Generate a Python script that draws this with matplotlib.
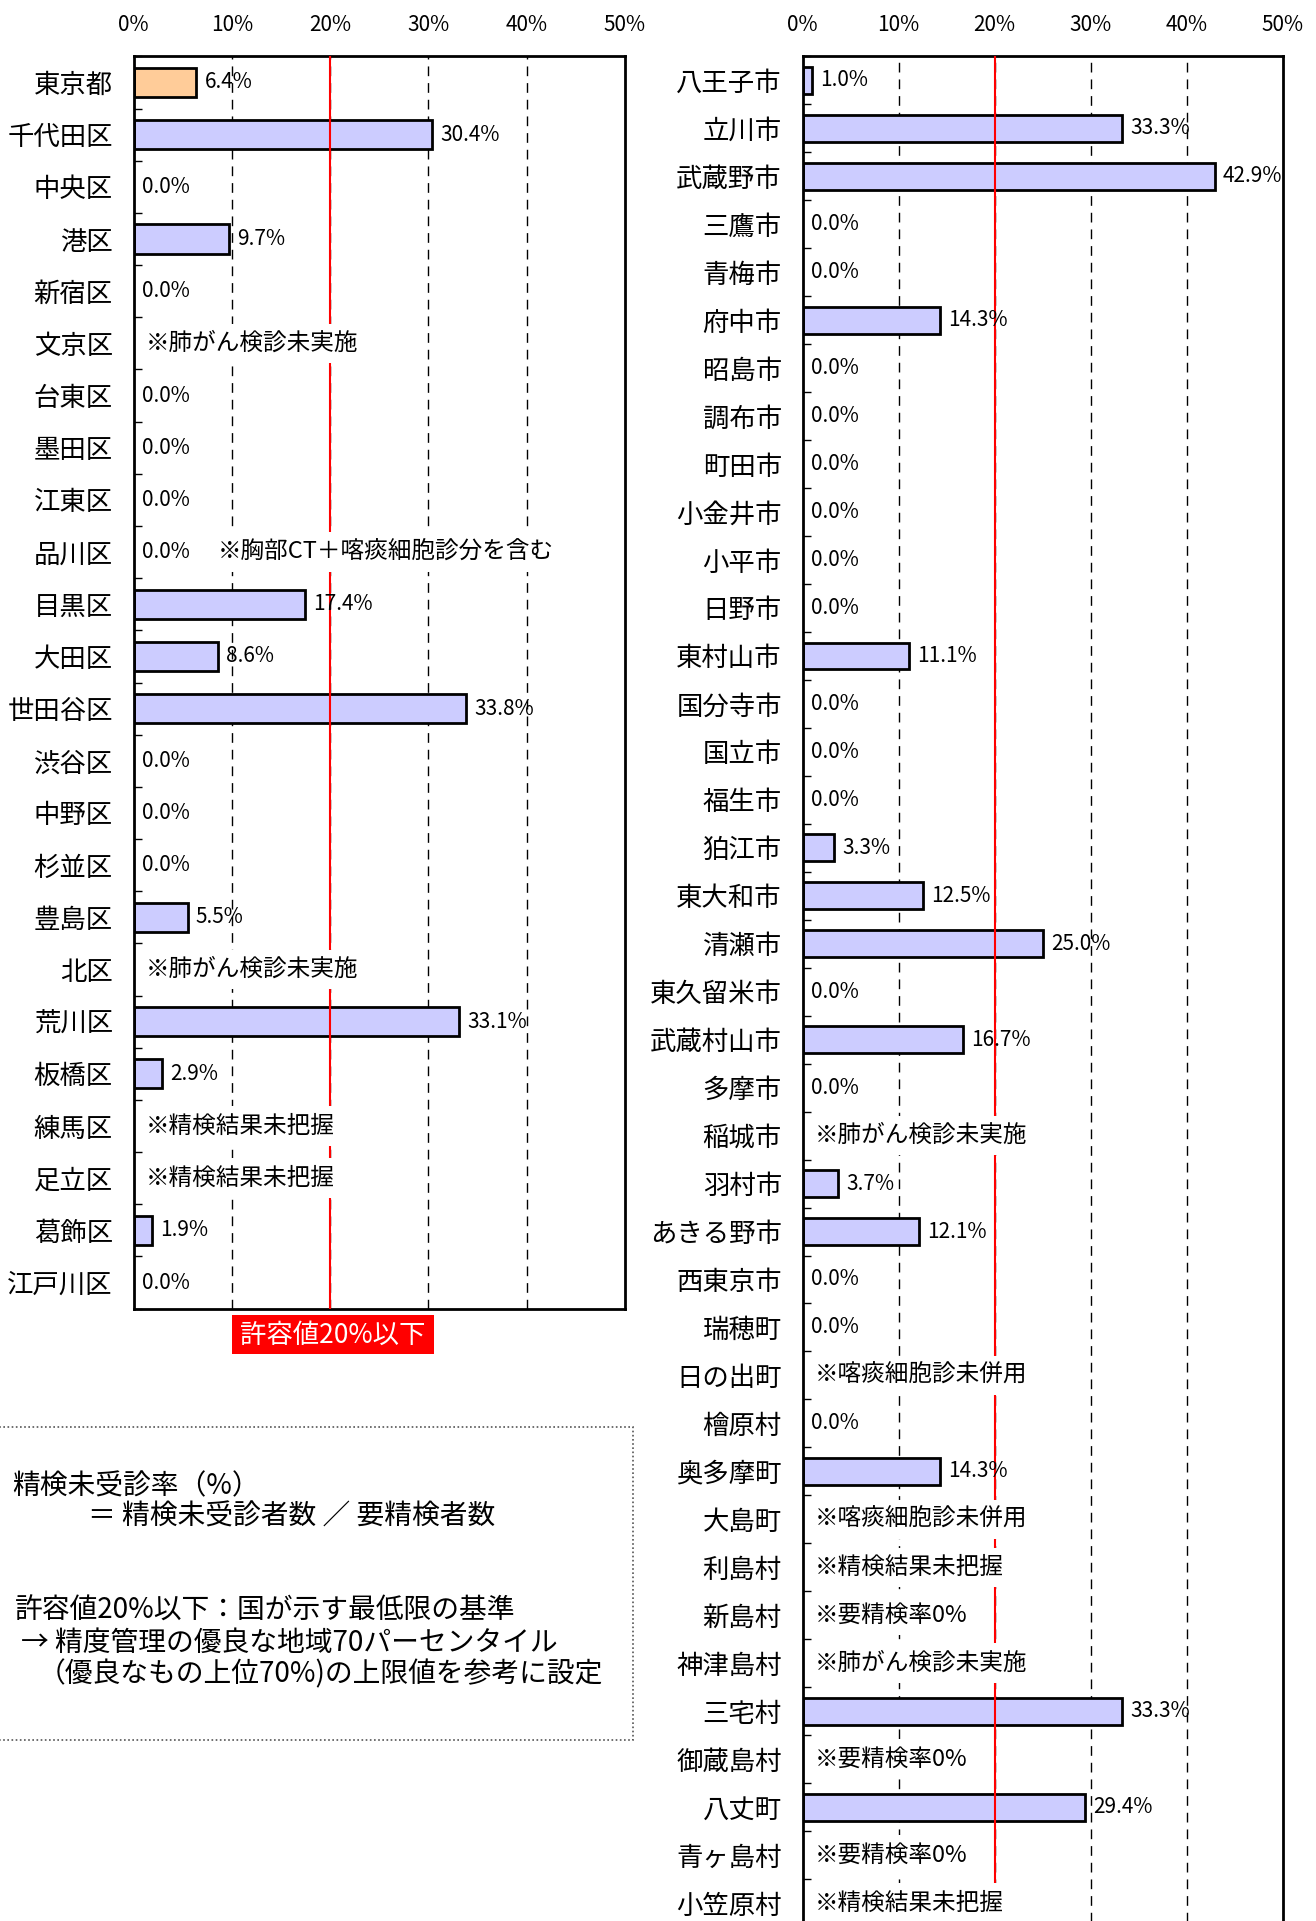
import numpy as np
import matplotlib.pyplot as plt
from matplotlib.patches import Rectangle

plt.rcParams['font.family'] = ['Noto Sans CJK JP', 'DejaVu Sans']

NA = np.nan

# 区部（東京都を先頭に）
ku_names = ["東京都", "千代田区", "中央区", "港区", "新宿区", "文京区", "台東区", "墨田区",
            "江東区", "品川区", "目黒区", "大田区", "世田谷区", "渋谷区", "中野区", "杉並区",
            "豊島区", "北区", "荒川区", "板橋区", "練馬区", "足立区", "葛飾区", "江戸川区"]
ku_rates = [6.4, 30.4, 0.0, 9.7, 0.0, NA, 0.0, 0.0,
            0.0, 0.0, 17.4, 8.6, 33.8, 0.0, 0.0, 0.0,
            5.5, NA, 33.1, 2.9, NA, NA, 1.9, 0.0]
ku_notes = ["", "", "", "", "", "※肺がん検診未実施", "", "",
            "", "※胸部CT＋喀痰細胞診分を含む", "", "", "", "", "", "",
            "", "※肺がん検診未実施", "", "", "※精検結果未把握", "※精検結果未把握", "", ""]

# 市町村
shi_names = ["八王子市", "立川市", "武蔵野市", "三鷹市", "青梅市", "府中市", "昭島市", "調布市",
             "町田市", "小金井市", "小平市", "日野市", "東村山市", "国分寺市", "国立市", "福生市",
             "狛江市", "東大和市", "清瀬市", "東久留米市", "武蔵村山市", "多摩市", "稲城市", "羽村市",
             "あきる野市", "西東京市", "瑞穂町", "日の出町", "檜原村", "奥多摩町", "大島町", "利島村",
             "新島村", "神津島村", "三宅村", "御蔵島村", "八丈町", "青ヶ島村", "小笠原村"]
shi_rates = [1.0, 33.3, 42.9, 0.0, 0.0, 14.3, 0.0, 0.0,
             0.0, 0.0, 0.0, 0.0, 11.1, 0.0, 0.0, 0.0,
             3.3, 12.5, 25.0, 0.0, 16.7, 0.0, NA, 3.7,
             12.1, 0.0, 0.0, NA, 0.0, 14.3, NA, NA,
             NA, NA, 33.3, NA, 29.4, NA, NA]
shi_notes = [""] * 22 + ["※肺がん検診未実施", "",
             "", "", "", "※喀痰細胞診未併用", "", "", "※喀痰細胞診未併用", "※精検結果未把握",
             "※要精検率0%", "※肺がん検診未実施", "", "※要精検率0%", "", "※要精検率0%", "※精検結果未把握"]

x_ticks = [0, 10, 20, 30, 40, 50]
limit = 20

W, H = 1316, 1921
BAR_COLOR = '#CCCCFF'
TOKYO_COLOR = '#FFCC99'


def draw_panel(ax, names, rates, notes, highlight_first=False):
    n = len(names)
    for i, (r, note) in enumerate(zip(rates, notes)):
        label = None
        if not np.isnan(r):
            color = TOKYO_COLOR if (highlight_first and i == 0) else BAR_COLOR
            if r > 0:
                ax.barh(i, r, height=0.56, color=color, edgecolor='black', linewidth=2, zorder=2)
            label = ax.annotate(f'{r:.1f}%', xy=(r, i), xytext=(6, 0), textcoords='offset points',
                                ha='left', va='center', fontsize=15, zorder=5)
        if note:
            box = dict(boxstyle='square,pad=0.35', fc='white', ec='none')
            if label is None:
                ax.annotate(note, xy=(0, i), xytext=(9, 0), textcoords='offset points',
                            ha='left', va='center', fontsize=17, bbox=box, zorder=4)
            else:
                ax.annotate(note, xy=(1, 0.5), xycoords=label, xytext=(20, 0),
                            textcoords='offset points', ha='left', va='center',
                            fontsize=17, bbox=box, zorder=4)

    for v in x_ticks[1:-1]:
        ax.axvline(v, color='black', lw=1, linestyle=(0, (7, 5)), zorder=1)
    ax.axvline(limit, color='red', lw=1.5, zorder=3)

    ax.set_xlim(0, 50)
    ax.set_ylim(n - 0.5, -0.5)
    ax.set_xticks(x_ticks, [f'{v}%' for v in x_ticks])
    ax.xaxis.tick_top()
    ax.tick_params(axis='x', length=0, pad=15, labelsize=15)
    ax.set_yticks(range(n), names)
    ax.tick_params(axis='y', which='major', length=0, pad=15, labelsize=19)
    ax.set_yticks(np.arange(-0.5, n), minor=True)
    ax.tick_params(axis='y', which='minor', direction='in', length=6, width=1)
    for sp in ax.spines.values():
        sp.set_linewidth(2)


fig = plt.figure(figsize=(W / 100, H / 100), dpi=100)

ax1 = fig.add_axes([133.6 / W, 1 - 1308.6 / H, (624.9 - 133.6) / W, (1308.6 - 56.4) / H])
draw_panel(ax1, ku_names, ku_rates, ku_notes, highlight_first=True)

ax2 = fig.add_axes([802.6 / W, 1 - 1927 / H, (1282.9 - 802.6) / W, (1927 - 56.4) / H])
draw_panel(ax2, shi_names, shi_rates, shi_notes)

# 許容値ラベル
fig.add_artist(Rectangle((231.6 / W, 1 - 1354 / H), 202 / W, 39 / H,
                         transform=fig.transFigure, fc='#FF0000', ec='none'))
fig.text(332.7 / W, 1 - 1335 / H, '許容値20%以下', color='white', fontsize=19,
         ha='center', va='center')

# 注記ボックス
fig.add_artist(Rectangle((-5 / W, 1 - 1740 / H), 638 / W, 313 / H, transform=fig.transFigure,
                         fill=False, ec='#555555', lw=1.2, linestyle=(0, (1, 1.5))))
fs = 20
fig.text(12 / W, 1 - 1486 / H, '精検未受診率（%）', fontsize=fs, va='center')
fig.text(88 / W, 1 - 1517 / H, '＝ 精検未受診者数 ／ 要精検者数', fontsize=fs, va='center')
fig.text(15 / W, 1 - 1611 / H, '許容値20%以下：国が示す最低限の基準', fontsize=fs, va='center')
fig.text(21 / W, 1 - 1643 / H, '→ 精度管理の優良な地域70パーセンタイル', fontsize=fs, va='center')
fig.text(38 / W, 1 - 1674 / H, '（優良なもの上位70%)の上限値を参考に設定', fontsize=fs, va='center')

fig.savefig('out.png', dpi=100)
